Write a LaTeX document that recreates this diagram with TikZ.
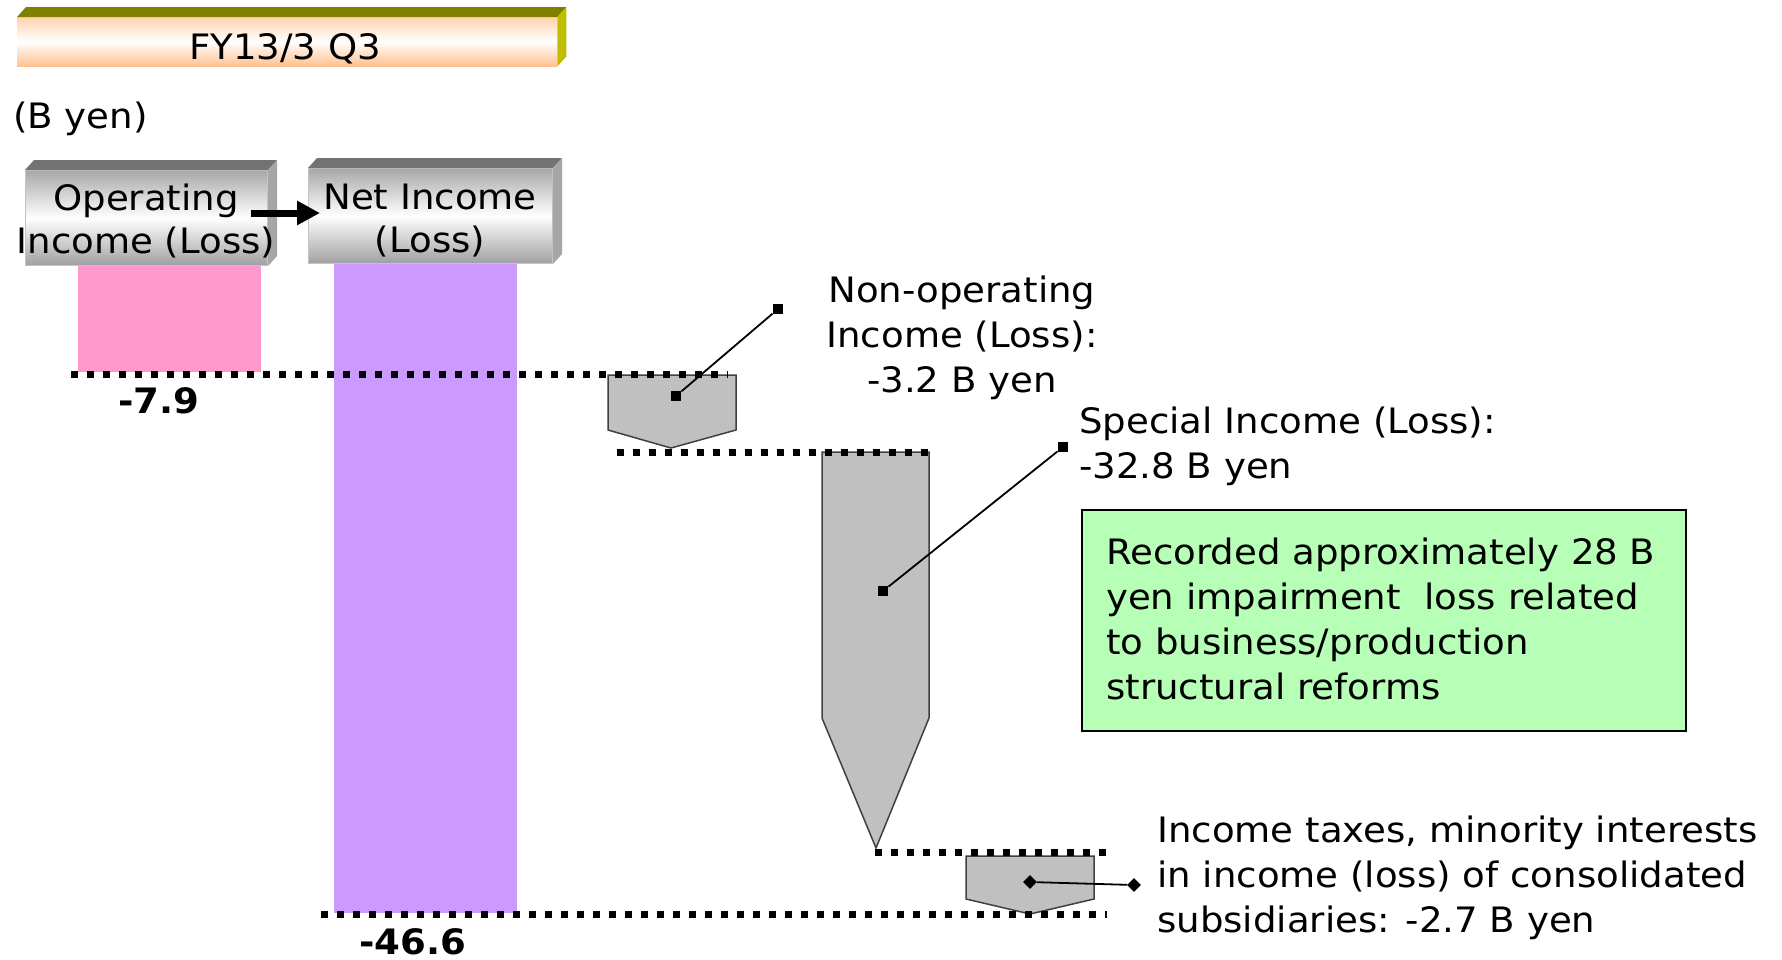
\documentclass[tikz,border=0pt]{standalone}
\usepackage{fontspec}
\setmainfont{DejaVu Sans}[FakeStretch=1.06]
\usetikzlibrary{arrows.meta,shapes.geometric}

\definecolor{olivetop}{HTML}{7F7F00}
\definecolor{oliveside}{HTML}{BFBF00}
\definecolor{peachtop}{HTML}{FFD2AE}
\definecolor{peachbot}{HTML}{FFC08E}
\definecolor{graytop}{HTML}{737373}
\definecolor{grayside}{HTML}{A6A6A6}
\definecolor{grayface}{HTML}{A8A8A8}
\definecolor{grayedge}{HTML}{C4C4C4}
\definecolor{pinkbar}{HTML}{FF99CC}
\definecolor{purplebar}{HTML}{CC99FF}
\definecolor{blockgray}{HTML}{C0C0C0}
\definecolor{blockedge}{HTML}{404040}
\definecolor{notegreen}{HTML}{B7FFB7}

\newcommand\bodyfont{\fontsize{35}{45}\selectfont}
\newcommand\headfont{\fontsize{35}{43}\selectfont}
\newcommand\firstline{\rule{0pt}{30pt}}
% top and right faces of a raised box, drawn from the front face node
\newcommand\boxfaces[3]{%
  \fill[#2] (#1.north west) -- ++(9,-10) -- ([shift={(9,-10)}]#1.north east) -- (#1.north east) -- cycle;
  \fill[#3] (#1.north east) -- ++(9,-10) -- ([shift={(9,-10)}]#1.south east) -- (#1.south east) -- cycle;}

\begin{document}
\begin{tikzpicture}[x=1pt, y=-1pt,
  txt/.style={inner sep=0pt, font=\bodyfont},
  boldtxt/.style={inner sep=0pt, font=\bodyfont\bfseries},
  headtxt/.style={inner sep=0pt, font=\headfont, align=center, anchor=north},
  headface/.style={anchor=north west, inner sep=0pt, draw=grayedge, line width=1pt,
    top color=grayface, bottom color=grayface!95!black, middle color=white},
  titleface/.style={anchor=north west, inner sep=0pt,
    top color=peachtop, bottom color=peachbot, middle color=white},
  block/.style={fill=blockgray, draw=blockedge, line width=1.5pt, line join=miter},
  levelline/.style={line width=7pt, dash pattern=on 7pt off 9pt},
  leader/.style={line width=1.8pt},
  sqmark/.style={rectangle, fill=black, minimum size=10.5pt, inner sep=0pt},
  dmmark/.style={diamond, fill=black, minimum size=14pt, inner sep=0pt},
  notebox/.style={anchor=north west, fill=notegreen, draw=black, line width=2pt, inner sep=0pt}
]
\useasboundingbox (0,0) rectangle (1782,959);

% heading bar
\node[titleface, minimum width=540pt, minimum height=49pt] (title) at (17,17) {};
\boxfaces{title}{olivetop}{oliveside}
\node[txt, anchor=base] (titletext) at (285,59) {FY13/3 Q3};

\node[txt, anchor=base west] (unit) at (13,128) {(B yen)};

% bars
\fill[pinkbar] (78,265) rectangle (261,372);
\fill[purplebar] (334,263) rectangle (517,913);

% column headers
\node[headface, minimum width=242pt, minimum height=95pt] (opbox) at (25,170) {};
\boxfaces{opbox}{graytop}{grayside}
\node[headface, minimum width=244pt, minimum height=95pt] (netbox) at (308,168) {};
\boxfaces{netbox}{graytop}{grayside}
\node[headtxt] (optext) at (146,180) {\firstline Operating\\Income (Loss)};
\node[headtxt] (nettext) at (430,179) {\firstline Net Income\\(Loss)};

\coordinate (arrS) at (251,213);
\coordinate (arrE) at (320,213);
\draw[line width=7pt, -{Triangle[length=23pt,width=23pt]}] (arrS) -- (arrE);

% step blocks
\draw[block] (608,375) -- (736,375) -- (736,430) -- (671,448) -- (608,430) -- cycle;
\draw[block] (822,452) -- (929,452) -- (929,718) -- (876,848) -- (822,718) -- cycle;
\draw[block] (966,856) -- (1094,856) -- (1094,899) -- (1030,914) -- (966,899) -- cycle;

% level lines
\draw[levelline] (71,374) -- (728,374);
\draw[levelline] (617,452) -- (928,452);
\draw[levelline] (875,852) -- (1107,852);
\draw[levelline] (321,914) -- (1107,914);

% values
\node[boldtxt, anchor=base west] (opval) at (118,413) {-7.9};
\node[boldtxt, anchor=base west] (netval) at (359,954) {-46.6};

% labels and leaders
\node[txt, align=center, anchor=north] (noplabel) at (962,272) {\firstline Non-operating\\Income (Loss):\\-3.2 B yen};
\node[sqmark] (nopin) at (676,396) {};
\node[sqmark] (nopout) at (778,309) {};
\draw[leader] (nopin) -- (nopout);

\node[txt, align=left, anchor=north west] (splabel) at (1079,403) {\firstline Special Income (Loss):\\-32.8 B yen};
\node[sqmark] (spin) at (883,591) {};
\node[sqmark] (spout) at (1063,447) {};
\draw[leader] (spin) -- (spout);

\node[notebox, minimum width=604pt, minimum height=221pt] (note) at (1081,509) {};
\node[txt, align=left, anchor=north west] (notetext) at (1106,534) {\firstline Recorded approximately 28 B\\yen impairment \ loss related\\to business/production\\structural reforms};

\node[txt, align=left, anchor=north west] (taxlabel) at (1157,812) {\firstline Income taxes, minority interests\\in income (loss) of consolidated\\subsidiaries: -2.7 B yen};
\node[dmmark] (taxin) at (1030,882) {};
\node[dmmark] (taxout) at (1134,885) {};
\draw[leader] (taxin) -- (taxout);

\end{tikzpicture}
\end{document}
